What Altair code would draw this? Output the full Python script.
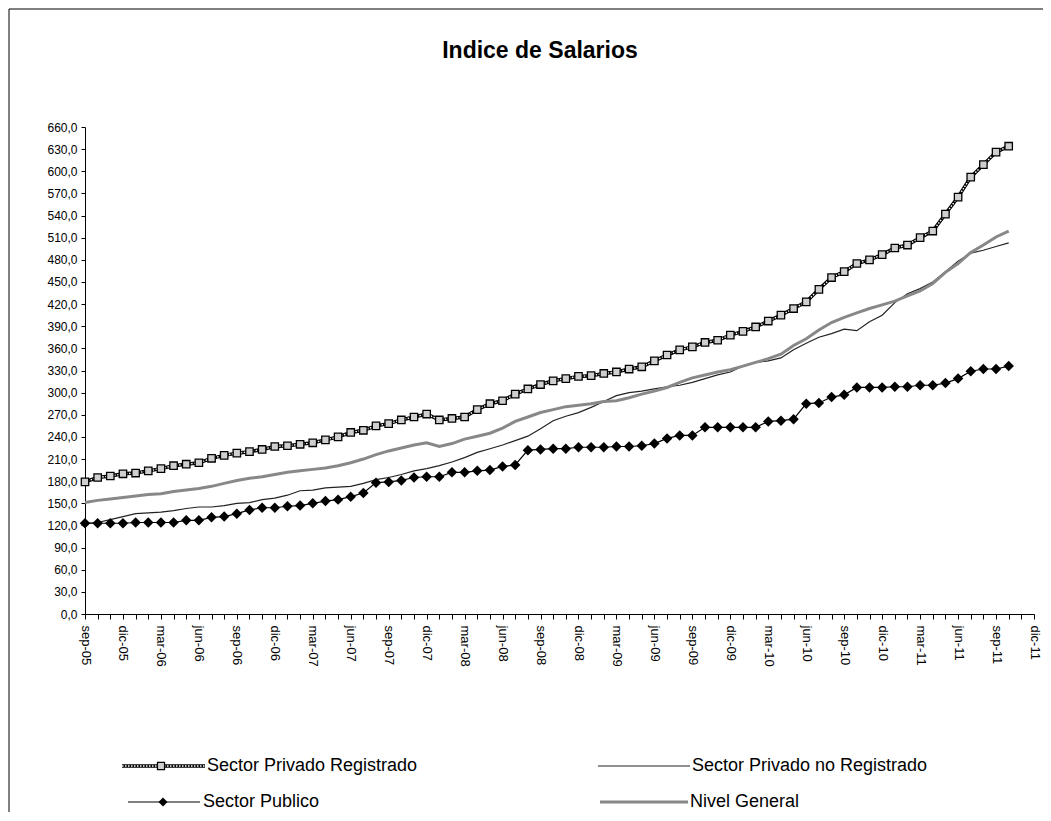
import altair as alt
import pandas as pd

title_text = "Indice de Salarios"
series_names = ["Sector Privado Registrado", "Sector Privado no Registrado",
                "Sector Publico", "Nivel General"]
tick_labels = ["sep-05", "dic-05", "mar-06", "jun-06", "sep-06", "dic-06", "mar-07",
               "jun-07", "sep-07", "dic-07", "mar-08", "jun-08", "sep-08", "dic-08",
               "mar-09", "jun-09", "sep-09", "dic-09", "mar-10", "jun-10", "sep-10",
               "dic-10", "mar-11", "jun-11", "sep-11", "dic-11"]
month_index = list(range(74))  # 0 = sep-05 ... 73 = oct-11

registrado = [179, 185, 187, 190, 191, 194, 197, 201, 203, 205, 211, 215, 218, 220, 223,
              227, 228, 230, 232, 236, 240, 246, 249, 255, 258, 263, 267, 271, 263, 265,
              267, 277, 285, 289, 298, 305, 311, 316, 319, 322, 323, 326, 328, 332, 335,
              343, 351, 358, 362, 368, 371, 378, 383, 389, 397, 405, 414, 423, 440, 456,
              464, 475, 480, 487, 496, 500, 510, 519, 542, 565, 592, 609, 626, 634]
no_registrado = [123, 124, 128, 132, 136, 137, 138, 140, 143, 145, 145, 147, 150, 151, 155,
                 157, 161, 167, 168, 171, 172, 173, 177, 182, 185, 189, 194, 197, 201, 206,
                 212, 219, 224, 229, 235, 241, 251, 262, 268, 273, 280, 288, 296, 300, 302,
                 305, 308, 310, 314, 319, 324, 328, 336, 341, 343, 347, 358, 367, 375, 380,
                 386, 384, 396, 405, 422, 434, 441, 450, 464, 478, 489, 493, 498, 503]
publico = [123, 123, 123, 123, 124, 124, 124, 124, 127, 127, 131, 132, 136, 141, 144,
           144, 146, 147, 150, 153, 155, 159, 164, 178, 179, 181, 185, 186, 186, 192,
           192, 194, 195, 200, 202, 222, 223, 224, 224, 226, 226, 226, 227, 227, 228,
           231, 238, 242, 242, 253, 253, 253, 253, 253, 261, 262, 264, 285, 286, 294,
           297, 307, 307, 307, 308, 308, 310, 310, 313, 319, 329, 332, 332, 336]
nivel_general = [151, 154, 156, 158, 160, 162, 163, 166, 168, 170, 173, 177, 181, 184, 186,
                 189, 192, 194, 196, 198, 201, 205, 210, 216, 221, 225, 229, 232, 227, 231,
                 237, 241, 245, 252, 261, 267, 273, 277, 281, 283, 285, 288, 289, 293, 298,
                 302, 307, 314, 320, 324, 328, 331, 336, 341, 346, 352, 364, 373, 385, 395,
                 402, 408, 414, 419, 424, 431, 438, 448, 463, 475, 490, 500, 511, 519]

df = pd.DataFrame({"m": month_index, "reg": registrado, "noreg": no_registrado,
                   "pub": publico, "ng": nivel_general})

FONT = "Liberation Sans"
label_js = "[" + ",".join("'%s'" % t for t in tick_labels) + "]"

x_enc = alt.X("m:Q", scale=alt.Scale(domain=[0, 75], nice=False, zero=False),
              axis=alt.Axis(values=list(range(76)), title=None, grid=False,
                            labelExpr="datum.value % 3 == 0 ? " + label_js + "[datum.value / 3] : ''",
                            labelAngle=90, labelAlign="left", labelBaseline="middle",
                            labelFontSize=13, labelFont=FONT, labelColor="black",
                            labelPadding=6, labelOverlap=False, labelFlush=False,
                            labelBound=False, tickSize=5, tickColor="black",
                            domainColor="black"))

def y_enc(col):
    return alt.Y(col + ":Q", scale=alt.Scale(domain=[0, 660], nice=False),
                 axis=alt.Axis(values=list(range(0, 661, 30)), title=None, grid=False,
                               labelExpr="replace(format(datum.value, '.1f'), '.', ',')",
                               labelFontSize=12, labelFont=FONT, labelColor="black",
                               labelPadding=4, tickSize=4, tickColor="black",
                               domainColor="black"))

base = alt.Chart(df)

reg_line_a = base.mark_line(color="black", strokeWidth=3.5).encode(x=x_enc, y=y_enc("reg"))
reg_line_b = base.mark_line(color="white", strokeWidth=1.4, strokeDash=[1.5, 1.5]).encode(
    x=x_enc, y=y_enc("reg"))
reg_pts = base.mark_point(shape="square", size=55, filled=True, fill="#cfcfcf",
                          stroke="black", strokeWidth=1.3, opacity=1).encode(
    x=x_enc, y=y_enc("reg"))
noreg_line = base.mark_line(color="#222222", strokeWidth=1.2).encode(x=x_enc, y=y_enc("noreg"))
pub_line = base.mark_line(color="black", strokeWidth=1.2).encode(x=x_enc, y=y_enc("pub"))
pub_pts = base.mark_point(shape="diamond", size=110, filled=True, color="black",
                          opacity=1).encode(x=x_enc, y=y_enc("pub"))
ng_line = base.mark_line(color="#888888", strokeWidth=3).encode(x=x_enc, y=y_enc("ng"))

one = pd.DataFrame({"k": [0]})
border = alt.Chart(one).mark_rect(fill="white", fillOpacity=0, stroke="black",
                                  strokeWidth=1).encode(
    x=alt.value(-76), x2=alt.value(1100), y=alt.value(-118), y2=alt.value(900))
title = alt.Chart(one).mark_text(font=FONT, fontSize=23, fontWeight="bold",
                                 align="center", baseline="middle", color="black").encode(
    x=alt.value(455), y=alt.value(-76), text=alt.value(title_text))

def lg_df(i):
    return pd.DataFrame({"label": [series_names[i]]})

def lg_text(i, x, y):
    return alt.Chart(lg_df(i)).mark_text(font=FONT, fontSize=18, align="left",
                                         baseline="middle", color="black").encode(
        x=alt.value(x), y=alt.value(y), text="label:N")

def lg_rule(i, x1, x2, y, **kw):
    return alt.Chart(lg_df(i)).mark_rule(**kw).encode(
        x=alt.value(x1), x2=alt.value(x2), y=alt.value(y))

row1, row2 = 639, 675
legend = [
    lg_rule(0, 37, 120, row1, color="black", strokeWidth=3.5),
    lg_rule(0, 37, 120, row1, color="white", strokeWidth=1.4, strokeDash=[1.5, 1.5]),
    alt.Chart(lg_df(0)).mark_point(shape="square", size=50, filled=True, fill="#cfcfcf",
                                   stroke="black", strokeWidth=1.2, opacity=1).encode(
        x=alt.value(76), y=alt.value(row1)),
    lg_text(0, 122, row1),
    lg_rule(1, 513, 605, row1, color="#222222", strokeWidth=1.2),
    lg_text(1, 607, row1),
    lg_rule(2, 43, 115, row2, color="black", strokeWidth=1.2),
    alt.Chart(lg_df(2)).mark_point(shape="diamond", size=80, filled=True, color="black",
                                   opacity=1).encode(x=alt.value(78), y=alt.value(row2)),
    lg_text(2, 118, row2),
    lg_rule(3, 515, 603, row2, color="#888888", strokeWidth=3),
    lg_text(3, 605, row2),
]

chart = alt.layer(
    border, title,
    reg_line_a, reg_line_b, reg_pts,
    noreg_line, pub_line, pub_pts, ng_line,
    *legend
).properties(
    width=949, height=487,
    autosize=alt.AutoSizeParams(type="none"),
    padding={"left": 77, "top": 119, "right": 9, "bottom": 198},
    background="white",
).configure_view(stroke=None)

chart.save("out.html", embed_options={"renderer": "svg", "actions": False})
